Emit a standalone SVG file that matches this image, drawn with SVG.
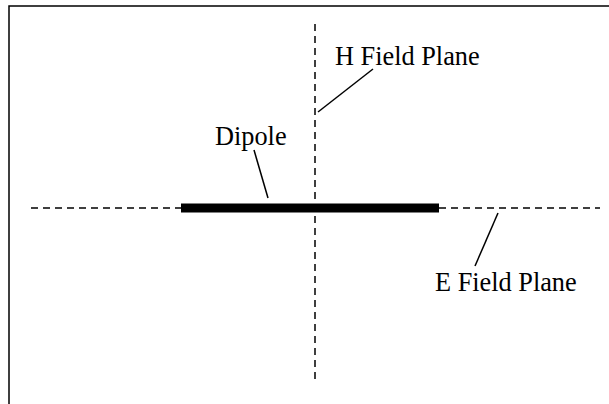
<svg xmlns="http://www.w3.org/2000/svg" width="609" height="404" viewBox="0 0 609 404">
<style>
.lbl{font-family:"Liberation Serif","Times New Roman",serif;font-size:26.3px;fill:#000}
.dash{stroke:#000;stroke-width:1.5;stroke-dasharray:7,5;fill:none}
.lead{stroke:#000;stroke-width:1.5;fill:none}
</style>
<rect x="0" y="0" width="609" height="404" fill="#fff"/>
<path d="M9,420 V6 H620" fill="none" stroke="#000" stroke-width="1.5"/>
<g id="connectors">
<line class="dash" x1="31" y1="208" x2="600" y2="208"/>
<line class="dash" x1="315" y1="24" x2="315" y2="382"/>
<line class="lead" x1="254" y1="150" x2="268" y2="198"/>
<line class="lead" x1="373" y1="69" x2="318" y2="112"/>
<line class="lead" x1="498" y1="213" x2="475" y2="266"/>
</g>
<g id="dipole">
<rect x="181" y="203.5" width="258" height="9" fill="#000"/>
<text class="lbl" x="215" y="145">Dipole</text>
</g>
<g id="hplane"><text class="lbl" x="335" y="65">H Field Plane</text></g>
<g id="eplane"><text class="lbl" x="435" y="291">E Field Plane</text></g>
</svg>
